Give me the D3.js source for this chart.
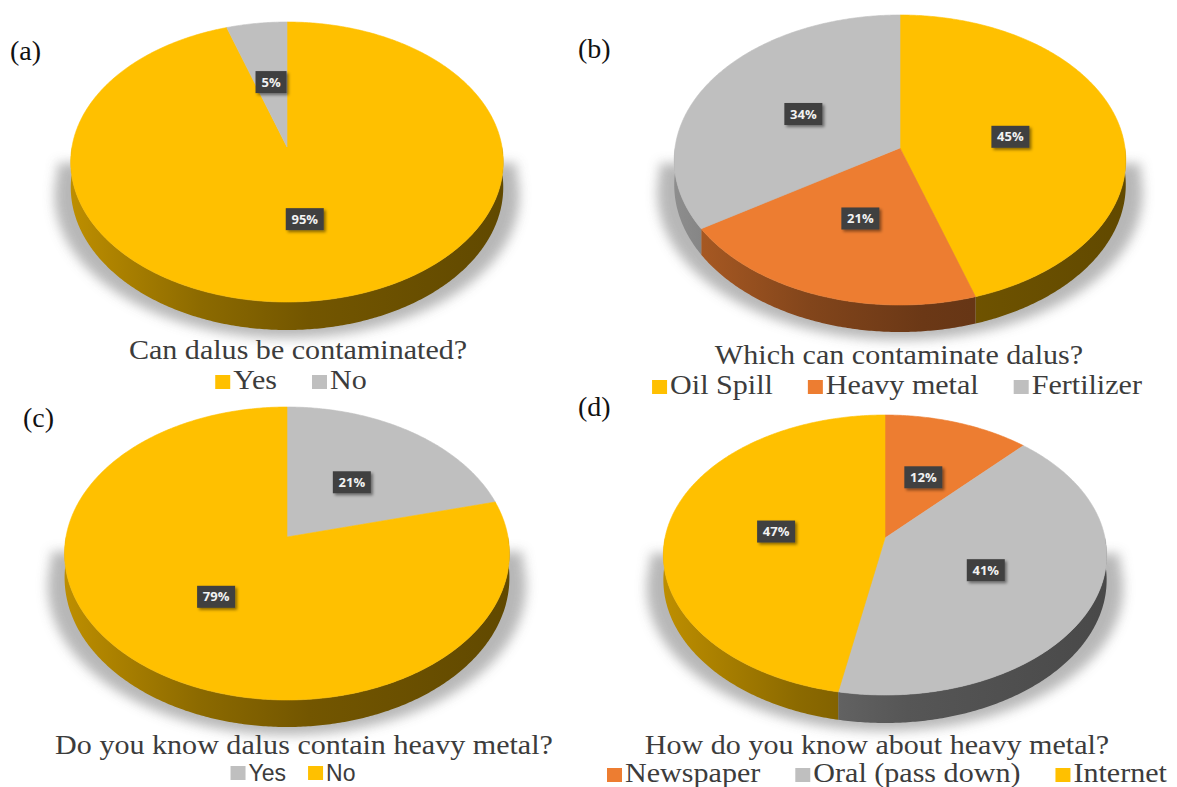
<!DOCTYPE html>
<html>
<head>
<meta charset="utf-8">
<script src="https://cdn.jsdelivr.net/npm/d3@7/dist/d3.min.js"></script>
<style>
  html, body { margin: 0; padding: 0; background: #ffffff; }
  svg { display: block; }
  .serif { font-family: "Liberation Serif", Tinos, "Times New Roman", "DejaVu Serif", serif; }
  .sans { font-family: "Liberation Sans", Arimo, Arial, sans-serif; }
  .tagfont { font-family: "Open Sans", "DejaVu Sans", sans-serif; }
</style>
</head>
<body>
<svg id="chart" width="1177" height="787"></svg>
<script>
// ---- Survey answers (percent of respondents) ----
const panelTags = ["(a)", "(b)", "(c)", "(d)"];

const titleA = "Can dalus be contaminated?";
const categoriesA = ["Yes", "No"];
const valuesA = [95, 5];
const colorsA = ["#FFC000", "#BFBFBF"];

const titleB = "Which can contaminate dalus?";
const categoriesB = ["Oil Spill", "Heavy metal", "Fertilizer"];
const valuesB = [45, 21, 34];
const colorsB = ["#FFC000", "#ED7D31", "#BFBFBF"];

const titleC = "Do you know dalus contain heavy metal?";
const categoriesC = ["Yes", "No"];
const valuesC = [21, 79];
const colorsC = ["#BFBFBF", "#FFC000"];

const titleD = "How do you know about heavy metal?";
const categoriesD = ["Newspaper", "Oral (pass down)", "Internet"];
const valuesD = [12, 41, 47];
const colorsD = ["#ED7D31", "#BFBFBF", "#FFC000"];

// ---- Placement of each pie panel on the page ----
// cx, cy: pie centre on the top face; rx: horizontal radius;
// up / down: distance from centre to back / front rim; thick: front wall height
const layouts = [
  { cx: 287, cy: 147, rx: 215, up: 125, down: 155, thick: 28,
    tag: [10, 60], title: [298, 359], legend: [291, 389], legendSans: false },
  { cx: 900, cy: 148, rx: 225, up: 133, down: 157, thick: 27,
    tag: [578, 58], title: [899, 364], legend: [897, 394], legendSans: false },
  { cx: 287, cy: 537, rx: 221, up: 130, down: 163, thick: 27,
    tag: [23, 427], title: [304, 754], legend: [293, 781], legendSans: true },
  { cx: 885, cy: 538, rx: 220, up: 123, down: 157, thick: 28,
    tag: [578, 416], title: [877, 754], legend: [887, 782], legendSans: false }
];

const panels = [
  { tag: panelTags[0], title: titleA, cats: categoriesA, vals: valuesA, cols: colorsA },
  { tag: panelTags[1], title: titleB, cats: categoriesB, vals: valuesB, cols: colorsB },
  { tag: panelTags[2], title: titleC, cats: categoriesC, vals: valuesC, cols: colorsC },
  { tag: panelTags[3], title: titleD, cats: categoriesD, vals: valuesD, cols: colorsD }
];

const svg = d3.select("#chart");
const defs = svg.append("defs");

defs.append("filter")
  .attr("id", "pieShadow")
  .attr("x", "-30%").attr("y", "-30%").attr("width", "160%").attr("height", "160%")
  .append("feGaussianBlur").attr("stdDeviation", 6);

defs.append("filter")
  .attr("id", "tagShadow")
  .attr("x", "-30%").attr("y", "-30%").attr("width", "170%").attr("height", "180%")
  .append("feDropShadow")
  .attr("dx", 2).attr("dy", 2).attr("stdDeviation", 1.4)
  .attr("flood-color", "#000").attr("flood-opacity", 0.45);

const TEXT_COLOR = "#3c3c3c";

function shade(color, f) {
  const c = d3.rgb(color);
  return d3.rgb(c.r * f, c.g * f, c.b * f).formatHex();
}

function drawPanel(p, idx) {
  const L = layouts[idx];
  const k = (L.down - L.up) / (L.down + L.up);   // perspective strength
  const B = L.up * (1 + k);
  const wallH = L.thick * (1 - k);

  const xs = d3.scaleLinear().domain([-1, 1]).range([L.cx - L.rx, L.cx + L.rx]);
  const ys = d3.scaleLinear().domain([-1, 1]).range([L.cy + B, L.cy - B]);
  const color = d3.scaleOrdinal().domain(p.cats).range(p.cols);

  // project a point of the disc (angle clockwise from 12 o'clock, radius fraction, depth 0..1)
  const proj = (theta, f, z) => {
    const u = f * Math.sin(theta), v = f * Math.cos(theta);
    const s = 1 / (1 + k * v);
    return [xs(u * s), ys(v * s) + z * wallH * s];
  };
  const arcPts = (a0, a1, f, z) => {
    const n = Math.max(2, Math.ceil(Math.abs(a1 - a0) / 0.01));
    return d3.range(n + 1).map(i => proj(a0 + (a1 - a0) * i / n, f, z));
  };
  const line = d3.line().curve(d3.curveLinearClosed);

  const arcs = d3.pie().sort(null).value(d => d.value)(
    p.cats.map((c, i) => ({ cat: c, value: p.vals[i] }))
  );

  const g = svg.append("g").attr("class", "panel");

  // soft floor shadow behind the pie: a widened copy of the front silhouette
  const widen = ([x, y]) => [L.cx + (x - L.cx) * 1.075, y + 8];
  const rim = arcPts(Math.PI / 2 - 0.05, 3 * Math.PI / 2 + 0.05, 1, 1).map(widen);
  const first = rim[0], last = rim[rim.length - 1];
  const shadowPts = [[first[0], first[1] - 10]].concat(rim, [[last[0], last[1] - 10]]);
  g.append("path")
    .attr("d", line(shadowPts))
    .attr("fill", "#b0b0b0")
    .attr("opacity", 0.9)
    .attr("filter", "url(#pieShadow)");

  // side gradients per slice colour
  arcs.forEach((a, i) => {
    const col = color(a.data.cat);
    const grad = defs.append("linearGradient")
      .attr("id", `side-${idx}-${i}`)
      .attr("gradientUnits", "userSpaceOnUse")
      .attr("x1", L.cx - L.rx).attr("x2", L.cx + L.rx)
      .attr("y1", 0).attr("y2", 0);
    [[0, 0.74], [0.3, 0.55], [0.55, 0.45], [1, 0.38]].forEach(([o, f]) => {
      grad.append("stop").attr("offset", o).attr("stop-color", shade(col, f));
    });
  });

  // outer walls (front half only)
  arcs.forEach((a, i) => {
    const lo = Math.max(a.startAngle, Math.PI / 2);
    const hi = Math.min(a.endAngle, 3 * Math.PI / 2);
    if (hi <= lo) return;
    const pts = arcPts(lo, hi, 1, 0).concat(arcPts(hi, lo, 1, 1));
    g.append("path")
      .attr("d", line(pts))
      .attr("fill", `url(#side-${idx}-${i})`);
  });

  // top faces
  arcs.forEach(a => {
    const pts = [proj(0, 0, 0)].concat(arcPts(a.startAngle, a.endAngle, 1, 0));
    g.append("path")
      .attr("d", line(pts))
      .attr("fill", color(a.data.cat))
      .attr("stroke", color(a.data.cat))
      .attr("stroke-width", 0.6);
  });

  // value tags
  arcs.forEach(a => {
    const [x, y] = proj((a.startAngle + a.endAngle) / 2, 0.5, 0);
    const t = g.append("g").attr("transform", `translate(${x},${y})`);
    const txt = `${a.data.value}%`;
    const w = txt.length > 2 ? 38 : 31;
    t.append("rect")
      .attr("x", -w / 2).attr("y", -11)
      .attr("width", w).attr("height", 22)
      .attr("fill", "#404040")
      .attr("filter", "url(#tagShadow)");
    t.append("text")
      .attr("class", "tagfont")
      .attr("text-anchor", "middle")
      .attr("dy", "0.36em")
      .attr("font-weight", 700)
      .attr("font-size", 13)
      .attr("fill", "#f2f2f2")
      .text(txt);
  });

  // panel letter
  svg.append("text")
    .attr("class", "serif")
    .attr("x", L.tag[0]).attr("y", L.tag[1])
    .attr("font-size", 28)
    .attr("fill", "#111")
    .text(p.tag);

  // title
  svg.append("g")
    .attr("transform", `translate(${L.title[0]},${L.title[1]}) scale(1.075,1)`)
    .append("text")
    .attr("class", "serif")
    .attr("text-anchor", "middle")
    .attr("font-size", 28)
    .attr("fill", TEXT_COLOR)
    .text(p.title);

  // legend
  const sx = L.legendSans ? 1.0 : 1.075;
  const fontSize = L.legendSans ? 23 : 28;
  const outer = svg.append("g")
    .attr("transform", `translate(${L.legend[0]},${L.legend[1]}) scale(${sx},1)`);
  const inner = outer.append("g");
  const sqW = 15 / sx, sqH = 14, gapSq = 3 / sx, gapItem = (L.legendSans ? 22 : 35) / sx;
  let x = 0;
  p.cats.forEach(c => {
    inner.append("rect")
      .attr("x", x).attr("y", -sqH - (L.legendSans ? 1 : 0))
      .attr("width", sqW).attr("height", sqH)
      .attr("fill", color(c));
    x += sqW + gapSq;
    const t = inner.append("text")
      .attr("class", L.legendSans ? "sans" : "serif")
      .attr("x", x).attr("y", 0)
      .attr("font-size", fontSize)
      .attr("fill", TEXT_COLOR)
      .text(c);
    x += t.node().getComputedTextLength() + gapItem;
  });
  const total = x - gapItem;
  inner.attr("transform", `translate(${-total / 2},0)`);
}

panels.forEach(drawPanel);
</script>
</body>
</html>
